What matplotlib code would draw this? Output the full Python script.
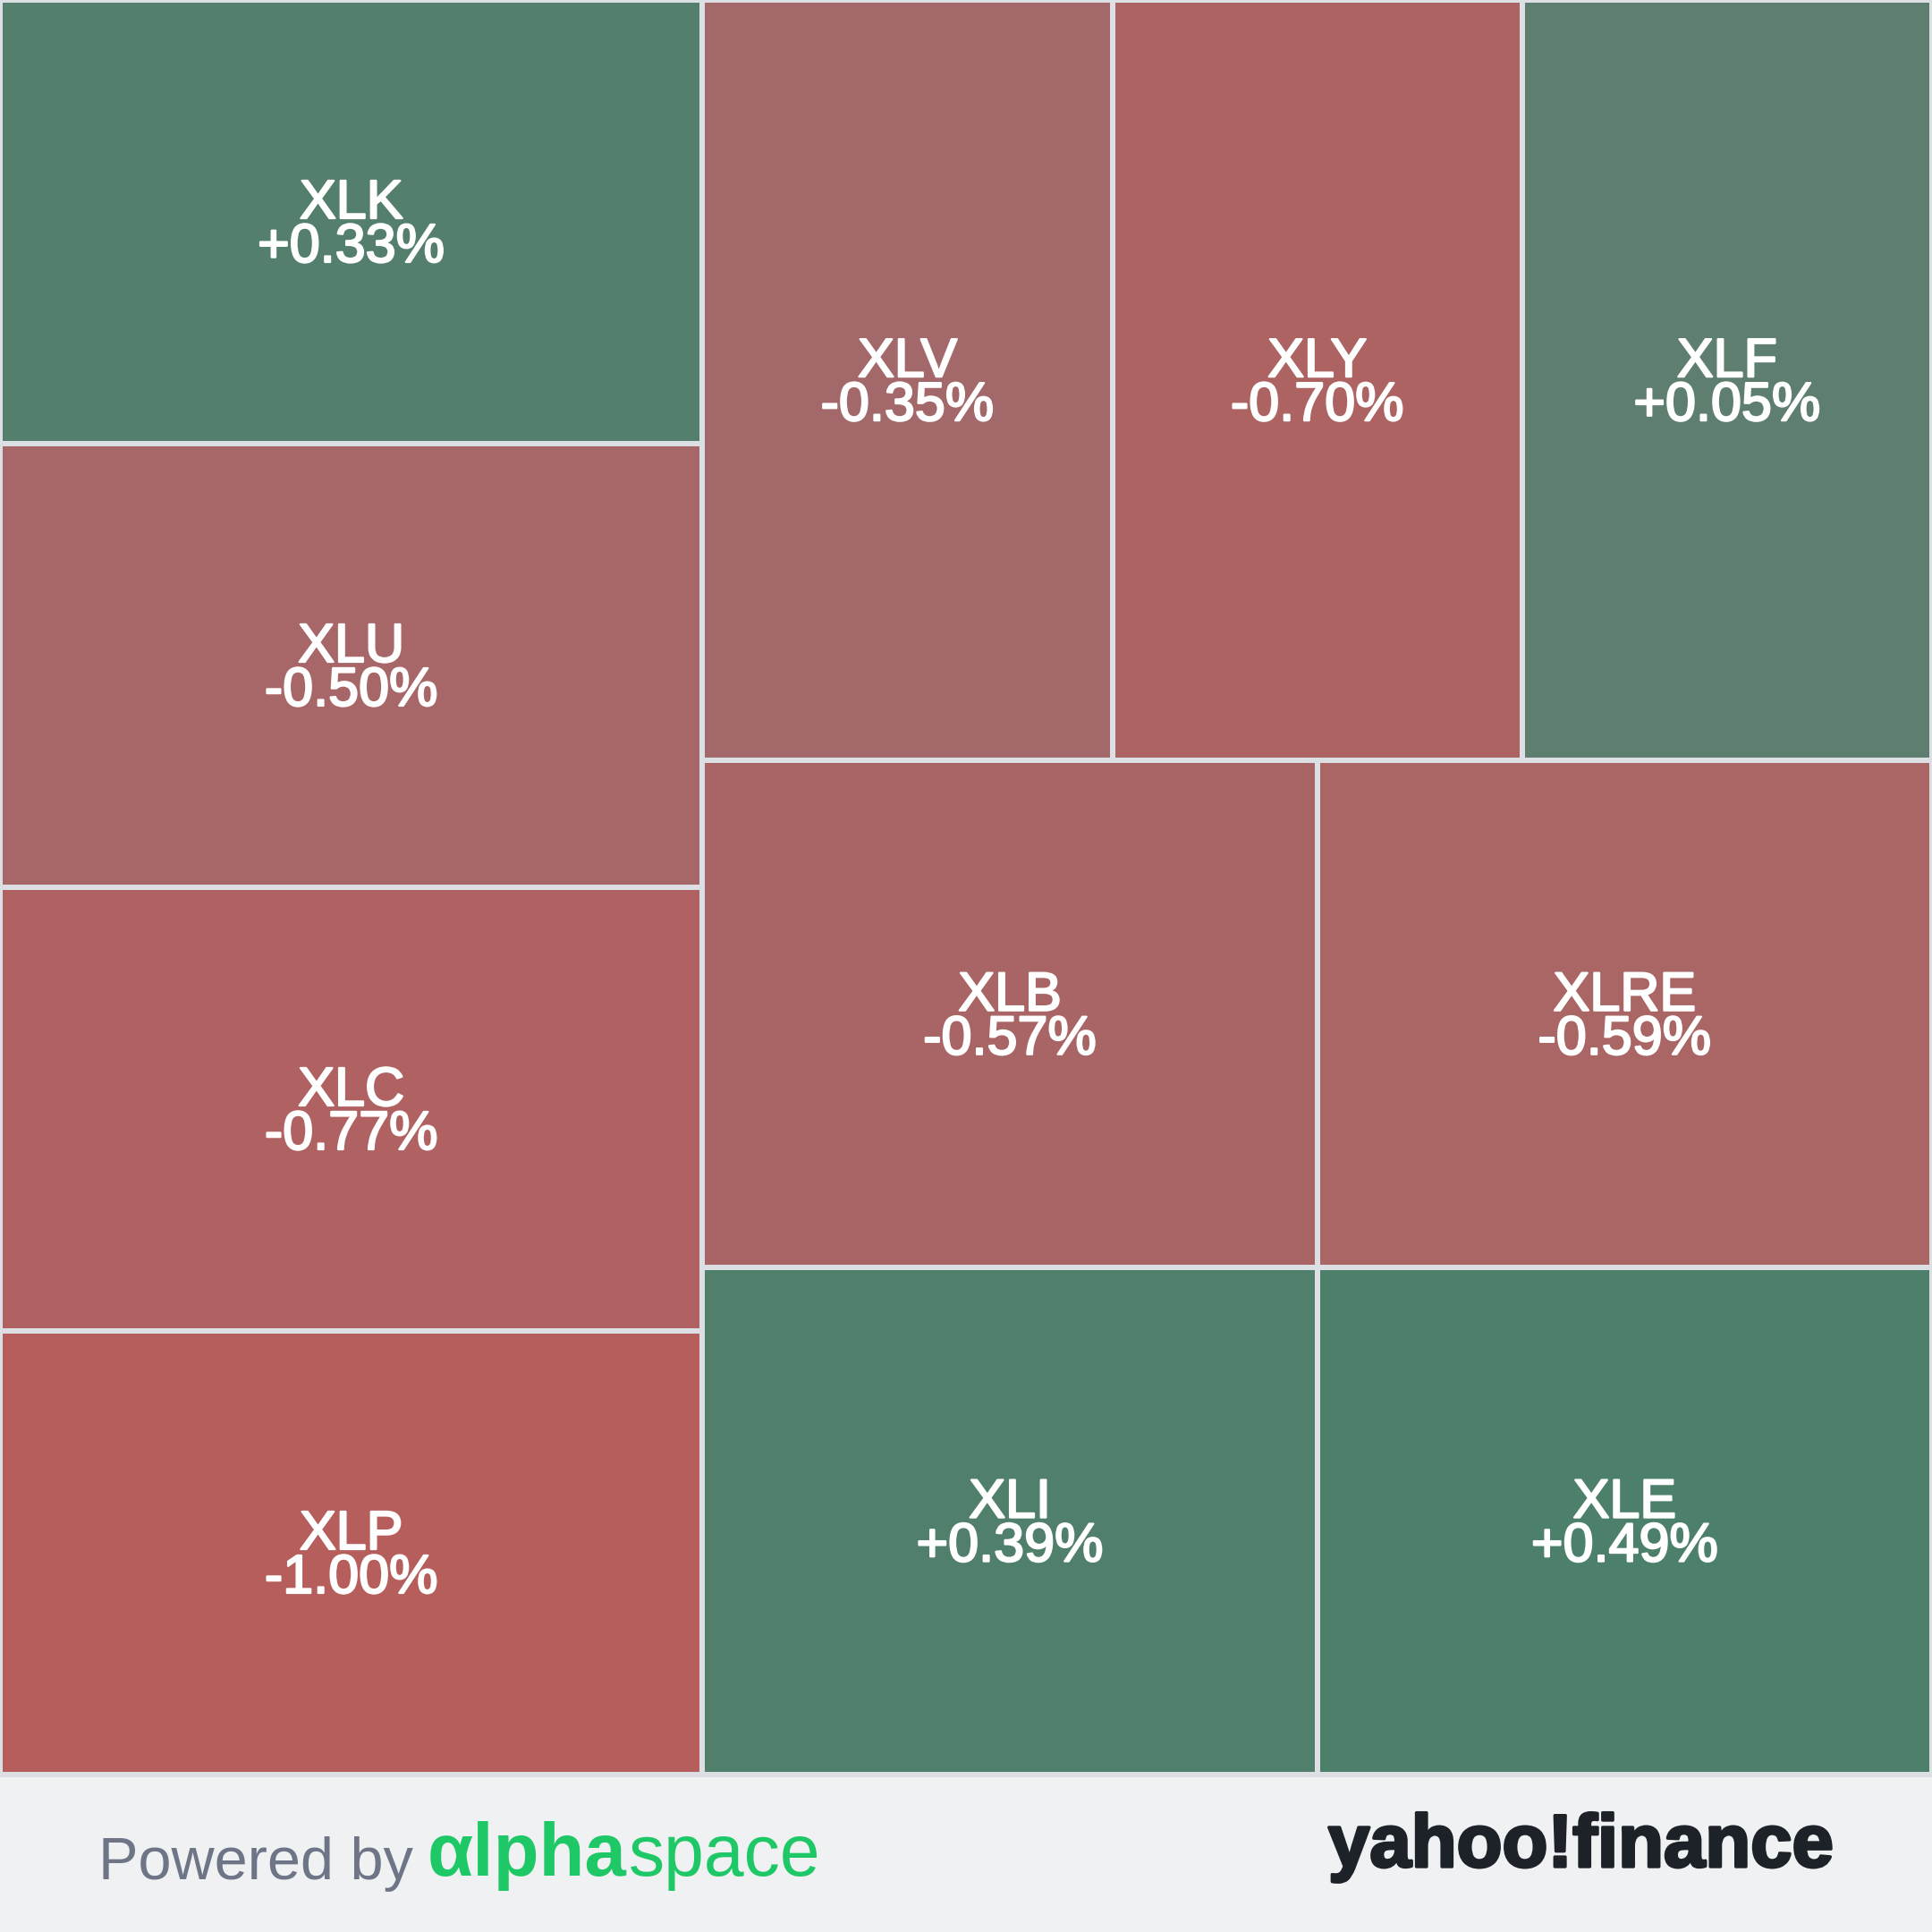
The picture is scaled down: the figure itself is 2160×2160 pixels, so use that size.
import numpy as np
import matplotlib
matplotlib.use("Agg")
import matplotlib.pyplot as plt
from matplotlib.patches import Rectangle
import matplotlib.patheffects as pe

# ---- data ----
tickers = ["XLK", "XLU", "XLC", "XLP", "XLV", "XLY", "XLF", "XLB", "XLI", "XLRE", "XLE"]
changes = [0.33, -0.50, -0.77, -1.00, -0.35, -0.70, 0.05, -0.57, 0.39, -0.59, 0.49]
weights = [1, 1, 1, 1, 1, 1, 1, 1, 1, 1, 1]

# ---- colour scale (two-sided) ----
neg_stops = np.array([-1.0, -0.35, 0.0])
neg_rgb = np.array([[181, 94, 92], [163, 105, 106], [153, 111, 114]]) / 255
pos_stops = np.array([0.0, 0.05, 0.49, 1.0])
pos_rgb = np.array([[96, 125, 113], [94, 126, 112], [76, 128, 106], [56, 131, 100]]) / 255


def change_color(v):
    if v < 0:
        st, rgb = neg_stops, neg_rgb
    else:
        st, rgb = pos_stops, pos_rgb
    return tuple(np.interp(v, st, rgb[:, k]) for k in range(3))


# ---- squarified treemap (d3 style, golden ratio) ----
def squarify(values, x0, y0, x1, y1, ratio=(1 + 5 ** 0.5) / 2):
    rects = [None] * len(values)
    n = len(values)
    i0 = i1 = 0
    value = float(sum(values))
    while i0 < n:
        dx, dy = x1 - x0, y1 - y0
        sum_v = values[i1]
        i1 += 1
        min_v = max_v = sum_v
        alpha = max(dy / dx, dx / dy) / (value * ratio)
        beta = sum_v * sum_v * alpha
        min_ratio = max(max_v / beta, beta / min_v)
        while i1 < n:
            nv = values[i1]
            sum_v += nv
            min_v = min(min_v, nv)
            max_v = max(max_v, nv)
            beta = sum_v * sum_v * alpha
            new_ratio = max(max_v / beta, beta / min_v)
            if new_ratio > min_ratio:
                sum_v -= nv
                break
            min_ratio = new_ratio
            i1 += 1
        idx = list(range(i0, i1))
        if dx < dy:  # dice: horizontal row on top
            h = dy * sum_v / value if value else dy
            cx = x0
            for j in idx:
                w = dx * values[j] / sum_v
                rects[j] = (cx, y0, w, h)
                cx += w
            y0 += h
        else:  # slice: vertical column on left
            w = dx * sum_v / value if value else dx
            cy = y0
            for j in idx:
                h = dy * values[j] / sum_v
                rects[j] = (x0, cy, w, h)
                cy += h
            x0 += w
        value -= sum_v
        i0 = i1
    return rects


W = H = 2160
MAP_H = 1984
PAD = 3

fig = plt.figure(figsize=(10.8, 10.8), dpi=200, facecolor="#f0f1f3")
ax = fig.add_axes([0, 0, 1, 1])
ax.set_xlim(0, W)
ax.set_ylim(H, 0)
ax.axis("off")

ax.add_patch(Rectangle((0, 0), W, MAP_H + 3, facecolor="#dcdfe4", edgecolor="none"))

rects = squarify(weights, 0, 0, W, MAP_H)
stroke = [pe.withStroke(linewidth=0.8, foreground="white")]
for t, c, (x, y, w, h) in zip(tickers, changes, rects):
    ax.add_patch(Rectangle((x + PAD, y + PAD), w - 2 * PAD, h - 2 * PAD,
                           facecolor=change_color(c), edgecolor="none"))
    cx, cy = x + w / 2, y + h / 2
    ax.text(cx, cy - 4, t, ha="center", va="baseline", color="white",
            fontsize=22, family="Liberation Sans", path_effects=stroke)
    ax.text(cx, cy + 45, f"{c:+.2f}%", ha="center", va="baseline", color="white",
            fontsize=22, family="Liberation Sans", path_effects=stroke)

# ---- footer ----
ax.text(110, 2101, "Powered by", ha="left", va="baseline", color="#6e7587",
        fontsize=24, family="Liberation Sans")
fig.canvas.draw()
r = fig.canvas.get_renderer()
ta = ax.text(478, 2097, "αlpha", ha="left", va="baseline", color="#1fc866",
             fontsize=30, family="Liberation Sans", fontweight="bold")
bb = ta.get_window_extent(r)
xend = ax.transData.inverted().transform((bb.x1, bb.y0))[0]
ax.text(xend + 2, 2097, "space", ha="left", va="baseline", color="#1fc866",
        fontsize=29, family="Liberation Sans")
ax.text(2050, 2087, "yahoo!finance", ha="right", va="baseline", color="#1d2128",
        fontsize=30, family="Liberation Sans", fontweight="bold",
        path_effects=[pe.withStroke(linewidth=1.2, foreground="#1d2128")])

fig.savefig("out.png", dpi=200, facecolor=fig.get_facecolor())
